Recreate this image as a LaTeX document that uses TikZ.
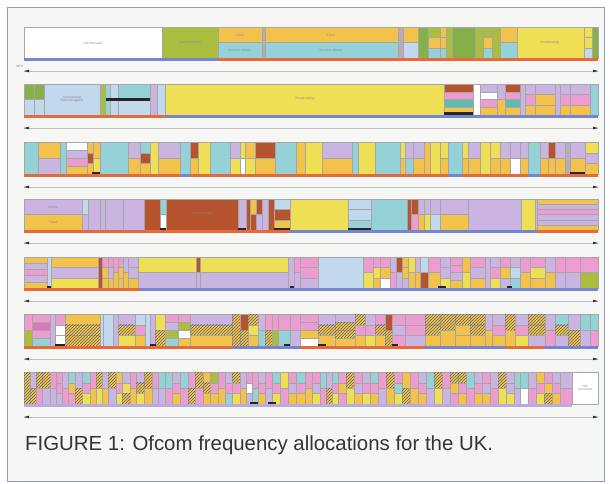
\documentclass[tikz,border=0pt]{standalone}
\usepackage{fontspec}
\setmainfont{Liberation Sans}
\usetikzlibrary{patterns,arrows.meta}
\definecolor{cOr}{HTML}{F2C24A}
\definecolor{cYe}{HTML}{EEDF55}
\definecolor{cCy}{HTML}{94D2D8}
\definecolor{cLb}{HTML}{C2D8EC}
\definecolor{cLv}{HTML}{CAB4E2}
\definecolor{cPk}{HTML}{EC9CCE}
\definecolor{cMg}{HTML}{D878B8}
\definecolor{cBr}{HTML}{B5542E}
\definecolor{cGr}{HTML}{AABD3E}
\definecolor{cDg}{HTML}{86B04A}
\definecolor{cTl}{HTML}{5EBBAE}
\definecolor{cGy}{HTML}{B8ACB6}
\definecolor{cRd}{HTML}{E86A3A}
\definecolor{cBl}{HTML}{7486D2}
\definecolor{cFrame}{HTML}{8C9CBE}
\definecolor{cBg}{HTML}{F6F6F4}
\definecolor{cCap}{HTML}{353535}
\tikzset{
  c-or/.style={fill=cOr}, c-ye/.style={fill=cYe}, c-cy/.style={fill=cCy},
  c-lb/.style={fill=cLb}, c-lv/.style={fill=cLv}, c-pk/.style={fill=cPk},
  c-mg/.style={fill=cMg}, c-br/.style={fill=cBr}, c-gr/.style={fill=cGr},
  c-dg/.style={fill=cDg}, c-tl/.style={fill=cTl}, c-gy/.style={fill=cGy},
  c-wh/.style={fill=white},
  c-hy/.style={fill=cOr, postaction={pattern=north east lines, pattern color=black!60}},
  axisline/.style={draw=black!25, line width=0.4pt},
  axtip/.style={fill=black!80},
  tinytxt/.style={font=\fontsize{3.2}{3.6}\selectfont, text=black!45, align=center, inner sep=0pt},
  captxt/.style={font=\fontsize{20.4}{22}\selectfont, text=cCap, anchor=base west, inner sep=0pt},
  blackbar/.style={fill=black!85},
}
\newcommand{\bandseg}[5]{%
  \foreach \bcol [count=\bn] in {#5}{\xdef\bandn{\bn}}%
  \foreach \bcol [count=\bi] in {#5}{%
    \pgfmathsetmacro\bya{#1+(#2-#1)*(\bi-1)/\bandn}%
    \pgfmathsetmacro\byb{#1+(#2-#1)*\bi/\bandn}%
    \edef\bandcmd{\noexpand\path[c-\bcol,draw=black!35,line width=0.3pt] (#3,\bya) rectangle (#4,\byb);}%
    \bandcmd
  }%
}
\newcommand{\sg}[3]{\bandseg{\rowtop}{\rowbot}{#1}{#2}{#3}}
\newcommand{\axisat}[1]{%
  \draw[axisline] (24,#1) -- (598,#1);
  \fill[axtip] (24,#1) -- (29,#1-1.3) -- (29,#1+1.3) -- cycle;
  \fill[axtip] (598,#1) -- (593,#1-1.3) -- (593,#1+1.3) -- cycle;
}
\begin{document}
\begin{tikzpicture}[x=1pt,y=-1pt]
\useasboundingbox (0,0) rectangle (610,484);
\fill[white] (0,0) rectangle (610,484);
\fill[cBg] (7,8) rectangle (604,481);
\draw[cFrame, line width=1pt] (7,8) rectangle (604,481);

% ---------------- Row 1
\def\rowtop{27}\def\rowbot{58}
\sg{24}{162}{wh}
\sg{162}{218}{gr}
\sg{218}{262}{or,cy}
\sg{262}{265}{gy}
\sg{265}{398}{or,cy}
\sg{398}{403}{gy}
\sg{403}{418}{or,lb}
\sg{418}{428}{dg}
\sg{428}{440}{gr,or,cy}
\sg{440}{446}{or,or,cy}
\sg{446}{452}{gr}
\sg{452}{475}{dg}
\sg{475}{483}{gr}
\sg{483}{492}{gr,or,cy}
\sg{492}{500}{gr}
\sg{500}{517}{or,cy}
\sg{517}{584}{ye}
\sg{584}{592}{ye,ye,lb}
\sg{592}{598}{dg}
\fill[cBl] (24,58) rectangle (218,61);
\fill[cRd] (218,58) rectangle (598,61);
\node[tinytxt] (r1a) at (93,43) {Not Allocated};
\node[tinytxt] (r1b) at (190,43) {Radionavigation};
\node[tinytxt] (r1c) at (240,35) {Fixed};
\node[tinytxt] (r1d) at (240,50) {Maritime Mobile};
\node[tinytxt] (r1e) at (331,35) {Fixed};
\node[tinytxt] (r1f) at (331,50) {Maritime Mobile};
\node[tinytxt] (r1g) at (550,43) {Broadcasting};
\axisat{71}
\node[tinytxt, anchor=west] (l1) at (16,66) {9kHz};

% ---------------- Row 2
\def\rowtop{84}\def\rowbot{115}
\sg{24}{34}{dg,lb}
\sg{34}{44}{dg,lb}
\sg{44}{100}{lb}
\sg{100}{105}{gr}
\sg{105}{110}{cy}
\sg{110}{118}{lb}
\sg{118}{150}{cy,lb}
\sg{150}{157}{lv}
\sg{157}{165}{lb}
\sg{165}{444}{ye}
\sg{444}{473}{br,pk,tl,or}
\sg{473}{480}{wh}
\sg{480}{497}{lv,wh,pk,or}
\sg{497}{505}{lv,or}
\sg{505}{520}{br,pk,tl,or}
\sg{520}{525}{lv}
\sg{525}{535}{lv,pk,or}
\sg{535}{555}{lv,or,or}
\sg{555}{560}{lv}
\sg{560}{570}{lv,pk,or}
\sg{570}{590}{lv,pk,or}
\sg{590}{598}{cy}
\fill[blackbar] (106,98.5) rectangle (150,101);
\fill[blackbar] (444,112.5) rectangle (473,115);
\fill[cRd] (24,115) rectangle (165,118);
\fill[cBl] (165,115) rectangle (598,118);
\node[tinytxt] (r2a) at (72,99) {Aeronautical\\Radionavigation};
\node[tinytxt] (r2b) at (305,99) {Broadcasting};
\axisat{128}

% ---------------- Row 3
\def\rowtop{142}\def\rowbot{174}
\sg{24}{38}{cy}
\sg{38}{60}{or,lv}
\sg{60}{66}{cy}
\sg{66}{87}{wh,lv,pk,or}
\sg{87}{93}{or,br,or}
\sg{93}{100}{or,ye}
\sg{100}{128}{cy}
\sg{128}{140}{lv,or}
\sg{140}{150}{cy,br,or}
\sg{150}{158}{ye}
\sg{158}{180}{lv,or}
\sg{180}{190}{cy}
\sg{190}{198}{br,or}
\sg{198}{210}{ye}
\sg{210}{230}{cy}
\sg{230}{240}{lv,ye}
\sg{240}{245}{ye,wh}
\sg{245}{255}{or,ye}
\sg{255}{275}{br,or}
\sg{275}{296}{cy}
\sg{296}{305}{or}
\sg{305}{322}{ye}
\sg{322}{352}{lv,or}
\sg{352}{358}{cy}
\sg{358}{375}{ye}
\sg{375}{400}{cy}
\sg{400}{405}{ye,or}
\sg{405}{413}{lv,cy}
\sg{413}{424}{lv,or}
\sg{424}{430}{or}
\sg{430}{440}{ye}
\sg{440}{448}{ye,or}
\sg{448}{462}{cy}
\sg{462}{468}{ye,or}
\sg{468}{480}{lv,or}
\sg{480}{490}{ye}
\sg{490}{500}{ye,or}
\sg{500}{510}{lv,or}
\sg{510}{520}{lv,wh}
\sg{520}{528}{lv,or}
\sg{528}{540}{cy}
\sg{540}{548}{lv,or}
\sg{548}{555}{br,or}
\sg{555}{565}{lv,or}
\sg{565}{570}{gy}
\sg{570}{585}{lv,or}
\sg{585}{598}{ye,lv,or}
\fill[blackbar] (570,171.5) rectangle (585,174);
\fill[blackbar] (92,171.5) rectangle (100,174);
\fill[cRd] (24,174) rectangle (598,177);
\fill[cBl] (180,174) rectangle (190,177);
\fill[cBl] (448,174) rectangle (462,177);
\fill[cBl] (528,174) rectangle (540,177);
\axisat{187}

% ---------------- Row 4
\def\rowtop{199}\def\rowbot{230}
\sg{24}{82}{lv,or}
\sg{82}{88}{lb,lv}
\sg{88}{100}{lv}
\sg{100}{105}{lv}
\sg{105}{123}{lv}
\sg{123}{144}{lv}
\sg{144}{160}{br}
\sg{160}{166}{cy,wh}
\sg{166}{238}{br}
\sg{238}{246}{lv}
\sg{246}{250}{br}
\sg{250}{256}{or,br}
\sg{256}{262}{br,lv}
\sg{262}{268}{lv}
\sg{268}{274}{br}
\sg{274}{290}{lb,br,or}
\sg{290}{348}{ye}
\sg{348}{371}{lb,lb,cy}
\sg{371}{407}{cy}
\sg{407}{411}{br}
\sg{411}{418}{br,pk}
\sg{418}{424}{lv,or}
\sg{424}{430}{lv,ye}
\sg{430}{440}{lv,lb}
\sg{440}{468}{lv,or}
\sg{468}{521}{lv}
\sg{521}{535}{ye}
\sg{535}{537}{lv}
\sg{537}{598}{or,lv,pk,lv,lv,or}
\fill[blackbar] (160,227.5) rectangle (166,230);
\fill[blackbar] (238,227.5) rectangle (246,230);
\fill[blackbar] (348,227.5) rectangle (371,230);
\fill[blackbar] (274,227.5) rectangle (290,230);
\fill[cRd] (24,230) rectangle (598,233);
\fill[cBl] (290,230) rectangle (537,233);
\node[tinytxt] (r4a) at (53,207) {Mobile};
\node[tinytxt] (r4b) at (53,222) {Fixed};
\node[tinytxt] (r4c) at (202,214) {Broadcasting};
\axisat{243}

% ---------------- Row 5
\def\rowtop{257}\def\rowbot{288}
\sg{24}{47}{or,lv,pk,lv,or}
\sg{47}{51}{lb}
\sg{51}{98}{or,lv,ye}
\sg{98}{102}{br}
\sg{102}{108}{pk,or,or}
\sg{108}{113}{pk,lv,or}
\sg{113}{118}{pk,or}
\sg{118}{123}{pk,or,or}
\sg{123}{128}{lv,or}
\sg{128}{138}{lv,lv,or}
\sg{138}{196}{ye,lv}
\sg{196}{200}{br,lv}
\sg{200}{288}{ye,lv}
\sg{288}{294}{lv}
\sg{294}{300}{pk,lv}
\sg{300}{318}{pk,pk,lv}
\sg{318}{363}{lb}
\sg{363}{373}{pk,ye}
\sg{373}{380}{pk,ye,or}
\sg{380}{390}{pk,or,wh}
\sg{390}{396}{lv,pk}
\sg{396}{402}{br,lv}
\sg{402}{408}{or,or,lv}
\sg{408}{415}{ye,or}
\sg{415}{420}{lv,or}
\sg{420}{428}{lb,br}
\sg{428}{440}{pk,or}
\sg{440}{450}{lv,lv,ye}
\sg{450}{462}{pk,pk,lv,or}
\sg{462}{470}{or,ye}
\sg{470}{485}{pk,lv,or}
\sg{485}{490}{lv}
\sg{490}{500}{lv,pk,ye}
\sg{500}{510}{pk,or,lv}
\sg{510}{520}{lv,lb,cy}
\sg{520}{530}{pk,or}
\sg{530}{545}{pk,ye,or}
\sg{545}{555}{lv,or}
\sg{555}{565}{pk,lv}
\sg{565}{580}{pk,lv}
\sg{580}{598}{pk,gr}
\fill[blackbar] (47,285.5) rectangle (51,288);
\fill[blackbar] (290,285.5) rectangle (294,288);
\fill[blackbar] (438,285.5) rectangle (446,288);
\fill[blackbar] (507,285.5) rectangle (512,288);
\fill[cRd] (24,288) rectangle (140,291);
\fill[cBl] (140,288) rectangle (598,291);
\axisat{301}

% ---------------- Row 6
\def\rowtop{314}\def\rowbot{346}
\sg{24}{32}{pk,gr}
\sg{32}{50}{pk,mg,pk,cy}
\sg{50}{55}{lv}
\sg{55}{65}{pk,wh,wh}
\sg{65}{100}{or,hy,hy}
\sg{100}{103}{lb}
\sg{103}{113}{lb}
\sg{113}{118}{lv}
\sg{118}{135}{lv,hy,ye}
\sg{135}{145}{lb,pk,or}
\sg{145}{150}{lb}
\sg{150}{155}{lv}
\sg{155}{165}{ye,hy}
\sg{165}{178}{pk,lv,gr,cy}
\sg{178}{190}{pk,gr,wh,or}
\sg{190}{232}{lv,hy,or}
\sg{232}{240}{hy}
\sg{240}{248}{br,hy}
\sg{248}{258}{hy,ye,or}
\sg{258}{265}{lv,cy}
\sg{265}{272}{pk,hy}
\sg{272}{278}{pk,gr}
\sg{278}{290}{pk,cy}
\sg{290}{300}{pk,lv}
\sg{300}{318}{pk,pk,or,wh}
\sg{318}{335}{lv,hy,or}
\sg{335}{355}{lv,hy,hy,or}
\sg{355}{365}{hy,pk,or}
\sg{365}{375}{lv,pk,ye}
\sg{375}{385}{pk,hy,or}
\sg{385}{392}{br,hy}
\sg{392}{405}{pk,lv,pk}
\sg{405}{425}{pk,pk,lv}
\sg{425}{440}{hy,hy,or}
\sg{440}{455}{hy,or}
\sg{455}{470}{hy,or,or}
\sg{470}{485}{hy,hy,or}
\sg{485}{492}{lv,or}
\sg{492}{505}{lv,pk,or}
\sg{505}{515}{hy,or}
\sg{515}{528}{lv,pk,ye}
\sg{528}{545}{hy,hy,lv}
\sg{545}{555}{lv,pk}
\sg{555}{568}{cy,hy,lv}
\sg{568}{580}{lv,hy}
\sg{580}{590}{cy,lv}
\sg{590}{598}{cy,pk}
\fill[blackbar] (55,343.5) rectangle (65,346);
\fill[blackbar] (150,343.5) rectangle (156,346);
\fill[blackbar] (284,343.5) rectangle (290,346);
\fill[blackbar] (318,343.5) rectangle (326,346);
\fill[blackbar] (392,343.5) rectangle (398,346);
\fill[cRd] (24,346) rectangle (598,349);
\fill[cBl] (232,346) rectangle (300,349);
\fill[cBl] (425,346) rectangle (505,349);
\fill[cBl] (545,346) rectangle (598,349);
\axisat{359}

% ---------------- Row 7
\def\rowtop{372}\def\rowbot{404}
\sg{24}{30}{hy}
\sg{30}{36}{lv,hy}
\sg{36}{42}{hy,pk}
\sg{42}{50}{hy,lv}
\sg{50}{56}{pk,lv}
\sg{56}{62}{pk,pk,lv}
\sg{62}{68}{lv,pk}
\sg{68}{75}{cy,or,pk}
\sg{75}{82}{lv,hy}
\sg{82}{90}{cy,pk,ye}
\sg{90}{96}{pk,or}
\sg{96}{102}{hy,ye}
\sg{102}{108}{lv,or}
\sg{108}{116}{hy,lv}
\sg{116}{122}{or,pk,ye}
\sg{122}{130}{lv,ye,hy}
\sg{130}{136}{pk,or}
\sg{136}{144}{lv,hy,ye}
\sg{144}{152}{hy,or}
\sg{152}{158}{pk,lv}
\sg{158}{165}{cy,lv}
\sg{165}{172}{cy,pk}
\sg{172}{180}{lv,pk,or}
\sg{180}{188}{cy,pk}
\sg{188}{195}{pk,hy}
\sg{195}{203}{hy,pk}
\sg{203}{210}{or,hy,or}
\sg{210}{218}{gr,pk,or}
\sg{218}{225}{pk,or}
\sg{225}{232}{lv,pk,cy}
\sg{232}{240}{hy,pk,ye}
\sg{240}{246}{lv,or}
\sg{246}{252}{pk,wh,lv}
\sg{252}{258}{pk,cy}
\sg{258}{265}{lv,pk,or}
\sg{265}{272}{pk,lv}
\sg{272}{280}{cy,pk,ye}
\sg{280}{288}{ye,pk}
\sg{288}{296}{pk,lv,or}
\sg{296}{305}{cy,pk,or}
\sg{305}{312}{pk,or}
\sg{312}{320}{pk,lv,ye}
\sg{320}{326}{cy,pk}
\sg{326}{332}{lv,hy}
\sg{332}{338}{cy,pk,ye}
\sg{338}{346}{pk,or,pk}
\sg{346}{354}{hy,ye}
\sg{354}{362}{pk,lv,or}
\sg{362}{370}{lv,pk,ye}
\sg{370}{378}{cy,pk,or}
\sg{378}{386}{pk,lv}
\sg{386}{394}{hy,or}
\sg{394}{402}{pk,cy,ye}
\sg{402}{410}{or,hy}
\sg{410}{418}{pk,or}
\sg{418}{426}{lv,pk,or}
\sg{426}{434}{cy,lv}
\sg{434}{442}{hy,ye}
\sg{442}{450}{pk,lv}
\sg{450}{458}{hy,or,pk}
\sg{458}{466}{hy,pk,or}
\sg{466}{474}{cy,pk}
\sg{474}{482}{lv,pk,or}
\sg{482}{490}{pk,lv,or}
\sg{490}{498}{lv,pk}
\sg{498}{506}{hy,ye}
\sg{506}{514}{lv,lv,ye}
\sg{514}{520}{cy,lv}
\sg{520}{528}{cy,wh}
\sg{528}{536}{lv,pk}
\sg{536}{544}{or,pk,ye}
\sg{544}{552}{pk,or,hy}
\sg{552}{560}{lv,pk,or}
\sg{560}{572}{lv,pk}
\sg{572}{598}{wh}
\fill[blackbar] (250,401.5) rectangle (258,404);
\fill[blackbar] (268,401.5) rectangle (276,404);
\fill[cLv!80!cBl] (24,404) rectangle (572,407);
\node[tinytxt] (r7a) at (585,388) {Not\\Allocated};
\axisat{417}

% ---------------- caption
\node[captxt] (caption) at (25,450) {FIGURE 1: Ofcom frequency allocations for the UK.};
\end{tikzpicture}
\end{document}
